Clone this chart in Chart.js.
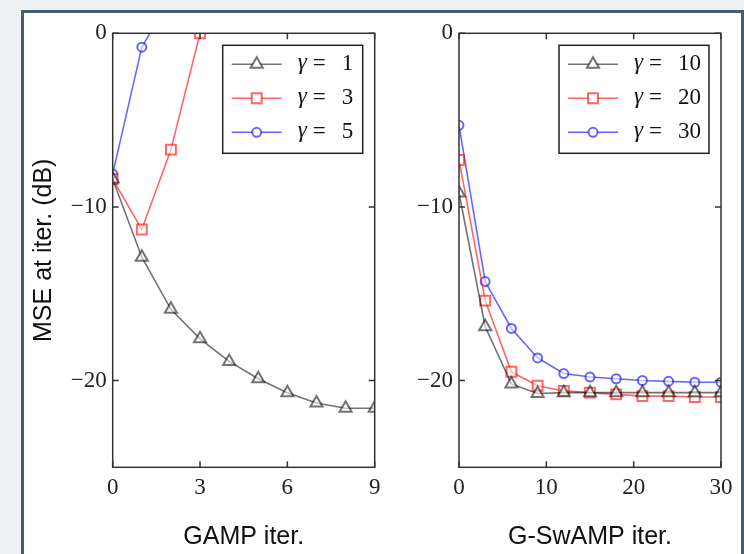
<!DOCTYPE html>
<html>
<head>
<meta charset="utf-8">
<script src="https://cdn.jsdelivr.net/npm/chart.js@4.4.0/dist/chart.umd.min.js"></script>
<style>
  body { margin: 0; width: 744px; height: 554px; overflow: hidden; position: relative; background: #eef1f3; }
  #frame { position: absolute; left: 21px; top: 10px; width: 717px; height: 560px; border: 3px solid #475c6d; background: #fff; }
  canvas { position: absolute; }
</style>
</head>
<body>
<div id="frame"></div>
<canvas id="gampChart" width="370" height="541" style="left:24px;top:13px"></canvas>
<canvas id="swampChart" width="361" height="541" style="left:380px;top:13px"></canvas>
<script>
// left panel: GAMP
const gampIter = [0, 1, 2, 3, 4, 5, 6, 7, 8, 9];
const gamma1 = [-8.4, -12.9, -15.9, -17.6, -18.9, -19.9, -20.7, -21.3, -21.6, -21.6];
const gamma3 = [-8.4, -11.3, -6.7, 0.0];
const gamma5 = [-8.1, -0.8, 2.1];
const gampTicks = [0, 3, 6, 9];

// right panel: G-SwAMP
const swampIter = [0, 3, 6, 9, 12, 15, 18, 21, 24, 27, 30];
const gamma10 = [-9.2, -16.9, -20.2, -20.75, -20.7, -20.7, -20.7, -20.7, -20.7, -20.7, -20.7];
const gamma20 = [-7.3, -15.4, -19.5, -20.3, -20.6, -20.7, -20.8, -20.9, -20.9, -20.95, -20.95];
const gamma30 = [-5.3, -14.3, -17.0, -18.7, -19.6, -19.8, -19.9, -20.0, -20.05, -20.1, -20.1];
const swampTicks = [0, 10, 20, 30];

const yTicks = [-20, -10, 0];

const GRAY = 'rgba(0,0,0,0.55)';
const RED = 'rgba(255,0,0,0.6)';
const BLUE = 'rgba(0,0,255,0.6)';
const SERIF = "'Liberation Serif', 'DejaVu Serif', serif";
const SANS = "'Liberation Sans', Arial, sans-serif";

const toPoints = (xs, ys) => ys.map((v, i) => ({ x: xs[i], y: v }));
const fmt = v => v < 0 ? '\u2212' + Math.abs(v) : String(v);

function series(label, xs, ys, color, shape, r) {
  return {
    label: label,
    data: toPoints(xs, ys),
    borderColor: color,
    borderWidth: 1.6,
    pointStyle: shape,
    pointRadius: r,
    pointHoverRadius: r,
    pointBorderColor: color,
    pointBackgroundColor: 'rgba(255,255,255,0.55)',
    pointBorderWidth: 2,
    tension: 0
  };
}

function drawMarker(ctx, shape, x, y, r) {
  ctx.beginPath();
  if (shape === 'triangle') {
    for (let k = 0; k < 3; k++) {
      const a = k * 2 * Math.PI / 3;
      const px = x + Math.sin(a) * r, py = y - Math.cos(a) * r;
      k ? ctx.lineTo(px, py) : ctx.moveTo(px, py);
    }
    ctx.closePath();
  } else if (shape === 'rect') {
    const s = r * Math.SQRT1_2;
    ctx.rect(x - s, y - s, 2 * s, 2 * s);
  } else {
    ctx.arc(x, y, r, 0, 2 * Math.PI);
  }
  ctx.fill();
  ctx.stroke();
}

// box round the plot with inward ticks on every side
const frameTicks = {
  id: 'frameTicks',
  afterDatasetsDraw(chart) {
    const { ctx, chartArea: a, scales: { x, y } } = chart;
    ctx.save();
    ctx.strokeStyle = '#333';
    ctx.lineWidth = 1.5;
    ctx.beginPath();
    x.ticks.forEach(t => {
      const px = x.getPixelForValue(t.value);
      ctx.moveTo(px, a.bottom); ctx.lineTo(px, a.bottom - 6);
      ctx.moveTo(px, a.top); ctx.lineTo(px, a.top + 6);
    });
    y.ticks.forEach(t => {
      const py = y.getPixelForValue(t.value);
      ctx.moveTo(a.left, py); ctx.lineTo(a.left + 6, py);
      ctx.moveTo(a.right, py); ctx.lineTo(a.right - 6, py);
    });
    ctx.stroke();
    ctx.strokeRect(a.left, a.top, a.width, a.height);
    ctx.restore();
  }
};

// matplotlib-like legend box in the upper right corner
const boxLegend = {
  id: 'boxLegend',
  afterDraw(chart, args, opts) {
    const { ctx, chartArea: a } = chart;
    const w = opts.width, h = 108;
    const left = a.right - 12 - w, top = a.top + 12;
    ctx.save();
    ctx.fillStyle = '#fff';
    ctx.fillRect(left, top, w, h);
    ctx.strokeStyle = '#222';
    ctx.lineWidth = 1.5;
    ctx.strokeRect(left, top, w, h);
    chart.data.datasets.forEach((ds, i) => {
      const cy = top + 19 + 34 * i;
      ctx.strokeStyle = ds.borderColor;
      ctx.lineWidth = ds.borderWidth;
      ctx.beginPath();
      ctx.moveTo(left + 9, cy); ctx.lineTo(left + 59, cy);
      ctx.stroke();
      ctx.lineWidth = ds.pointBorderWidth;
      ctx.fillStyle = '#fff';
      drawMarker(ctx, ds.pointStyle, left + 34, cy, ds.pointRadius);
      const tx = left + 75;
      ctx.fillStyle = '#111';
      ctx.textBaseline = 'middle';
      ctx.font = 'italic 23px ' + SERIF;
      ctx.fillText('\u03b3', tx, cy - 1);
      ctx.font = '23px ' + SERIF;
      ctx.fillText('=', tx + 15, cy);
      ctx.fillText(ds.label, tx + 44, cy);
    });
    ctx.restore();
  }
};

function makeChart(id, datasets, xMax, xTicks, xTitle, yTitle, yWidth, padRight, legendWidth) {
  return new Chart(document.getElementById(id), {
    type: 'line',
    data: { datasets: datasets },
    options: {
      responsive: false,
      animation: false,
      events: [],
      layout: { padding: { left: 0, right: padRight, top: 20.3, bottom: 0 } },
      plugins: {
        legend: { display: false },
        tooltip: { enabled: false },
        boxLegend: { width: legendWidth }
      },
      scales: {
        x: {
          type: 'linear',
          min: 0,
          max: xMax,
          afterBuildTicks: s => { s.ticks = xTicks.map(v => ({ value: v })); },
          afterFit: s => { s.height = 86.7; },
          grid: { display: false, drawTicks: false },
          border: { display: false },
          ticks: { padding: 7, color: '#222', font: { family: SERIF, size: 23 }, callback: fmt, maxRotation: 0 },
          title: { display: true, text: xTitle, color: '#111', font: { family: SANS, size: 25 }, padding: { top: 0, bottom: 2 } }
        },
        y: {
          min: -25,
          max: 0,
          afterBuildTicks: s => { s.ticks = yTicks.map(v => ({ value: v })); },
          afterFit: s => { s.width = yWidth; },
          grid: { display: false, drawTicks: false },
          border: { display: false },
          ticks: { padding: 6, color: '#222', font: { family: SERIF, size: 23 }, callback: fmt },
          title: { display: !!yTitle, text: yTitle, color: '#111', font: { family: SANS, size: 25 }, padding: { top: 5, bottom: 0 } }
        }
      }
    },
    plugins: [frameTicks, boxLegend]
  });
}

makeChart('gampChart', [
  series('1', gampIter, gamma1, GRAY, 'triangle', 7),
  series('3', gampIter, gamma3, RED, 'rect', 7),
  series('5', gampIter, gamma5, BLUE, 'circle', 4.5)
], 9, gampTicks, 'GAMP iter.', 'MSE at iter. (dB)', 88.7, 19.3, 140);

makeChart('swampChart', [
  series('10', swampIter, gamma10, GRAY, 'triangle', 7),
  series('20', swampIter, gamma20, RED, 'rect', 7),
  series('30', swampIter, gamma30, BLUE, 'circle', 4.5)
], 30, swampTicks, 'G-SwAMP iter.', '', 79, 20, 150);
</script>
</body>
</html>
